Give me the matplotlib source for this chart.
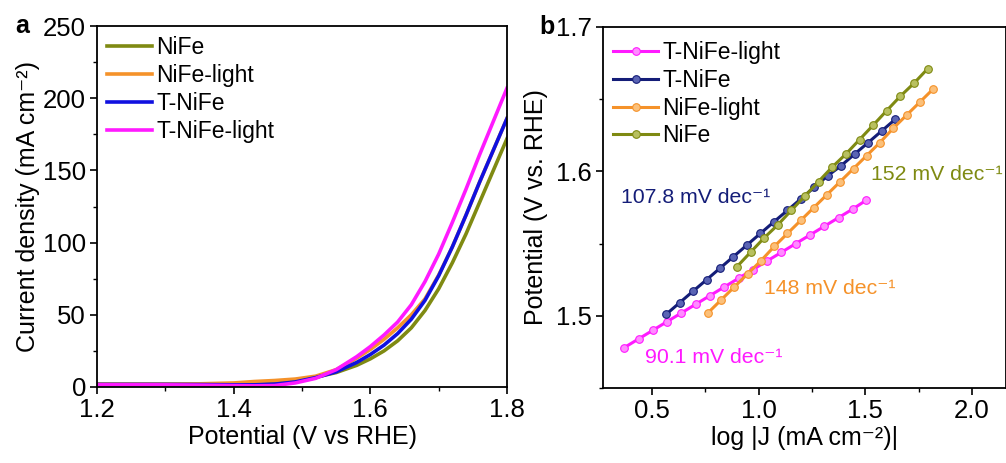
import numpy as np
import matplotlib.pyplot as plt
from matplotlib.ticker import MultipleLocator

plt.rcParams['font.family'] = ['Liberation Sans', 'DejaVu Sans']

# panel a: LSV curves
potential = [1.20, 1.25, 1.30, 1.35, 1.40, 1.43, 1.46, 1.49, 1.52, 1.55, 1.58,
             1.60, 1.62, 1.64, 1.66, 1.68, 1.70, 1.72, 1.74, 1.76, 1.78, 1.80]
j_nife = [1.8, 1.8, 1.8, 1.7, 1.6, 1.8, 2.5, 4.0, 6.8, 10, 15,
          19.5, 25, 32, 41, 53, 68, 86, 106, 128, 150, 172]
j_nife_light = [2.0, 2.0, 2.0, 2.2, 2.8, 3.8, 4.5, 5.5, 7.5, 12, 20,
                26, 33, 41, 50, 61, 77.5, 97, 119, 142, 164, 186]
j_tnife = [1.8, 1.8, 1.8, 1.7, 1.5, 1.5, 2.0, 3.5, 6.5, 10.5, 17,
           22.5, 29, 37, 47, 60, 77, 97, 119, 142, 164, 186]
j_tnife_light = [1.5, 1.5, 1.5, 1.3, 1.0, 0.8, 1.0, 2.8, 6.0, 12, 21,
                 28, 36, 45, 57, 73, 92, 114, 137, 161, 184, 207]

# panel b: Tafel plots
logj_tl = [0.370, 0.437, 0.504, 0.571, 0.638, 0.705, 0.772, 0.839, 0.906,
           0.973, 1.040, 1.107, 1.174, 1.241, 1.308, 1.375, 1.442, 1.504]
v_tl = [1.478, 1.484, 1.490, 1.496, 1.502, 1.508, 1.514, 1.520, 1.526,
        1.532, 1.538, 1.544, 1.550, 1.556, 1.562, 1.568, 1.574, 1.580]
logj_t = [0.566, 0.629, 0.692, 0.756, 0.819, 0.882, 0.945, 1.008, 1.071,
          1.135, 1.198, 1.261, 1.324, 1.387, 1.450, 1.514, 1.577, 1.640]
v_t = [1.501, 1.509, 1.517, 1.525, 1.533, 1.541, 1.549, 1.557, 1.565,
       1.573, 1.581, 1.589, 1.597, 1.604, 1.612, 1.620, 1.628, 1.636]
logj_l = [0.762, 0.824, 0.886, 0.948, 1.010, 1.073, 1.135, 1.197, 1.259,
          1.321, 1.383, 1.445, 1.507, 1.569, 1.632, 1.694, 1.756, 1.818]
v_l = [1.502, 1.511, 1.520, 1.529, 1.538, 1.548, 1.557, 1.566, 1.575,
       1.584, 1.593, 1.602, 1.611, 1.620, 1.630, 1.639, 1.648, 1.657]
logj_n = [0.898, 0.962, 1.026, 1.090, 1.153, 1.217, 1.281, 1.345,
          1.409, 1.473, 1.537, 1.600, 1.664, 1.728, 1.792]
v_n = [1.534, 1.544, 1.554, 1.563, 1.573, 1.583, 1.593, 1.603,
       1.612, 1.622, 1.632, 1.642, 1.652, 1.661, 1.671]

olive = '#7f8a12'
orange = '#f5922a'
blue = '#1010e0'
magenta = '#ff1aff'
navy = '#141d78'

fig = plt.figure(figsize=(10.06, 4.63), dpi=100)
ax1 = fig.add_axes([97/1006, 1-387/463, 410/1006, 361/463])
ax2 = fig.add_axes([603/1006, 1-388/463, 403/1006, 361/463])

leg_kw = dict(loc='upper left', frameon=False, fontsize=16.5, handlelength=1.95,
              handletextpad=0.2, labelspacing=0.21, borderpad=0.2,
              borderaxespad=0.25)

ax1.plot(potential, j_nife, color=olive, lw=2.6, label='NiFe')
ax1.plot(potential, j_nife_light, color=orange, lw=2.6, label='NiFe-light')
ax1.plot(potential, j_tnife, color=blue, lw=2.6, label='T-NiFe')
ax1.plot(potential, j_tnife_light, color=magenta, lw=2.6, label='T-NiFe-light')
ax1.set_xlim(1.2, 1.8)
ax1.set_ylim(0, 250)
ax1.xaxis.set_major_locator(MultipleLocator(0.2))
ax1.xaxis.set_minor_locator(MultipleLocator(0.1))
ax1.yaxis.set_major_locator(MultipleLocator(50))
ax1.yaxis.set_minor_locator(MultipleLocator(25))
ax1.set_xlabel('Potential (V vs RHE)', fontsize=18, labelpad=2)
ax1.set_ylabel('Current density (mA cm⁻²)', fontsize=18, labelpad=2)
ax1.legend(**leg_kw)
ax1.text(-0.2, 1.0, 'a', transform=ax1.transAxes, fontsize=18,
         fontweight='bold', va='center', ha='left')

mk = dict(marker='o', ms=5.5, mew=0.8, lw=2.2)
ax2.plot(logj_tl, v_tl, color=magenta, mfc='#ff8cff', label='T-NiFe-light', **mk)
ax2.plot(logj_t, v_t, color=navy, mfc='#5a64b4', label='T-NiFe', **mk)
ax2.plot(logj_l, v_l, color=orange, mfc='#fbc07a', label='NiFe-light', **mk)
ax2.plot(logj_n, v_n, color=olive, mfc='#b8c060', label='NiFe', **mk)
ax2.set_xlim(0.27, 2.16)
ax2.set_ylim(1.45, 1.7)
ax2.xaxis.set_major_locator(MultipleLocator(0.5))
ax2.xaxis.set_minor_locator(MultipleLocator(0.25))
ax2.yaxis.set_major_locator(MultipleLocator(0.1))
ax2.yaxis.set_minor_locator(MultipleLocator(0.05))
ax2.set_xlabel('log |J (mA cm⁻²)|', fontsize=18, labelpad=2)
ax2.set_ylabel('Potential (V vs. RHE)', fontsize=18, labelpad=6)
ax2.legend(bbox_to_anchor=(0, 0.99), **leg_kw)
ax2.text(-0.158, 1.0, 'b', transform=ax2.transAxes, fontsize=18,
         fontweight='bold', va='center', ha='left')

ax2.text(0.354, 1.582, '107.8 mV dec⁻¹', color=navy, fontsize=15.3, va='center')
ax2.text(1.525, 1.598, '152 mV dec⁻¹', color=olive, fontsize=15.3, va='center')
ax2.text(1.025, 1.519, '148 mV dec⁻¹', color=orange, fontsize=15.3, va='center')
ax2.text(0.468, 1.471, '90.1 mV dec⁻¹', color=magenta, fontsize=15.3, va='center')

for ax in (ax1, ax2):
    ax.tick_params(which='major', direction='out', length=5, width=1.2,
                   labelsize=18.5, top=False, right=False, pad=3)
    ax.tick_params(which='minor', direction='out', length=3, width=1.0,
                   top=False, right=False)
    for s in ax.spines.values():
        s.set_linewidth(1.3)

plt.savefig('out.png', dpi=100)
